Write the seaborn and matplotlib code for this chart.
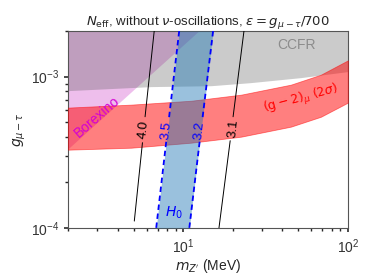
import numpy as np
import matplotlib
matplotlib.use("Agg")
import matplotlib.pyplot as plt
import seaborn as sns

# ---------------------------------------------------------------- DATA
# CCFR excluded region: lower boundary (fills up to top)
ccfr_m = [2.0, 6.4, 14.8, 25.8, 51.9, 100.0]
ccfr_g = [8.08e-4, 8.59e-4, 8.71e-4, 9.13e-4, 9.85e-4, 1.08e-3]

# Borexino excluded region (polygon)
bor_m = [2.0, 12.6, 2.0]
bor_g = [3.29e-4, 2.0e-3, 2.0e-3]

# (g-2)_mu 2 sigma band
gm2_m = [2.0, 4.84, 11.2, 22.5, 45.1, 68.6, 100.0]
gm2_lo = [3.29e-4, 3.39e-4, 3.66e-4, 4.01e-4, 4.67e-4, 5.43e-4, 6.73e-4]
gm2_hi = [6.24e-4, 6.53e-4, 6.93e-4, 7.60e-4, 8.85e-4, 1.03e-3, 1.28e-3]

# N_eff contours (top -> bottom, NaN = gap for the inline label)
c40_m = [6.67, 5.87, np.nan, 5.66, 5.05]
c40_g = [2.0e-3, 5.43e-4, np.nan, 3.66e-4, 1.11e-4]
c31_m = [23.4, 20.1, np.nan, 19.3, 16.5]
c31_g = [2.0e-3, 5.43e-4, np.nan, 3.77e-4, 1.0e-4]
c35_m = [9.46, 8.18, np.nan, 7.89, 6.86]
c35_g = [2.0e-3, 5.19e-4, np.nan, 3.71e-4, 1.0e-4]
c32_m = [15.2, 13.07, np.nan, 12.59, 10.9]
c32_g = [2.0e-3, 5.19e-4, np.nan, 3.71e-4, 1.0e-4]

# H0 band between the 3.5 and 3.2 contours
h0_g = [1.0e-4, 2.0e-3]
h0_left = [6.86, 9.46]
h0_right = [10.9, 15.2]

# contour labels: (text, m, g, colour)
clabels = [("4.0", 5.72, 4.46e-4, "black"), ("3.1", 20.1, 4.53e-4, "black"),
           ("3.5", 7.89, 4.39e-4, "blue"), ("3.2", 12.5, 4.39e-4, "blue")]

# ---------------------------------------------------------------- STYLE
sns.set_theme(style="ticks")
plt.rcParams["font.family"] = ["Liberation Sans", "DejaVu Sans"]
plt.rcParams["mathtext.fontset"] = "dejavusans"

fig = plt.figure(figsize=(3.74, 2.80), dpi=100)
ax = fig.add_axes([0.182, 0.186, 0.748, 0.703])
ax.set_xscale("log"); ax.set_yscale("log")

# ---------------------------------------------------------------- REGIONS
ax.fill(bor_m, bor_g, color="orchid", alpha=0.45, lw=0, zorder=1)
ax.fill_between(ccfr_m, ccfr_g, 2.0e-3, color="#555555", alpha=0.3, lw=0, zorder=2)
ax.fill_between(gm2_m, gm2_lo, gm2_hi, facecolor="red", alpha=0.5,
                edgecolor="red", lw=0.6, zorder=3)
ax.fill_betweenx(h0_g, h0_left, h0_right, color="#1f77b4", alpha=0.45, lw=0, zorder=4)

# ---------------------------------------------------------------- CONTOURS
ax.plot(c40_m, c40_g, color="black", lw=0.7, zorder=5)
ax.plot(c31_m, c31_g, color="black", lw=0.7, zorder=5)
ax.plot(c35_m, c35_g, color="blue", lw=1.3, ls=(0, (3, 2)), zorder=5)
ax.plot(c32_m, c32_g, color="blue", lw=1.3, ls=(0, (3, 2)), zorder=5)
for txt, m, g, col in clabels:
    ax.text(m, g, txt, color=col, fontsize=9.5, rotation=84,
            ha="center", va="center", zorder=6)

# ---------------------------------------------------------------- TEXT
ax.text(49.1, 1.63e-3, "CCFR", color="#8c8c8c", fontsize=10, ha="center", va="center")
ax.text(51.9, 7.05e-4, r"$(\mathrm{g}-2)_\mu\ (2\sigma)$", color="red", fontsize=9,
        rotation=15, ha="center", va="center", zorder=6)
ax.text(3.01, 5.43e-4, "Borexino", color="#d400d4", fontsize=10, rotation=41,
        ha="center", va="center", zorder=7)
ax.text(8.82, 1.26e-4, r"$H_0$", color="blue", fontsize=10, ha="center", va="center", zorder=6)

ax.set_xlim(2, 100)
ax.set_ylim(1e-4, 2e-3)
ax.set_xlabel(r"$m_{Z'}$ (MeV)", fontsize=10, labelpad=1)
ax.set_ylabel(r"$g_{\mu-\tau}$", fontsize=10, labelpad=2)
ax.set_title(r"$N_{\rm eff}$, without $\nu$-oscillations, $\epsilon = g_{\mu-\tau}/700$",
             fontsize=9.5, pad=4)
ax.tick_params(labelsize=10, colors="#333333", length=3)
ax.tick_params(which="minor", length=2)
for s in ax.spines.values():
    s.set_color("#555555"); s.set_linewidth(0.8)

fig.savefig("out.png", dpi=100)
